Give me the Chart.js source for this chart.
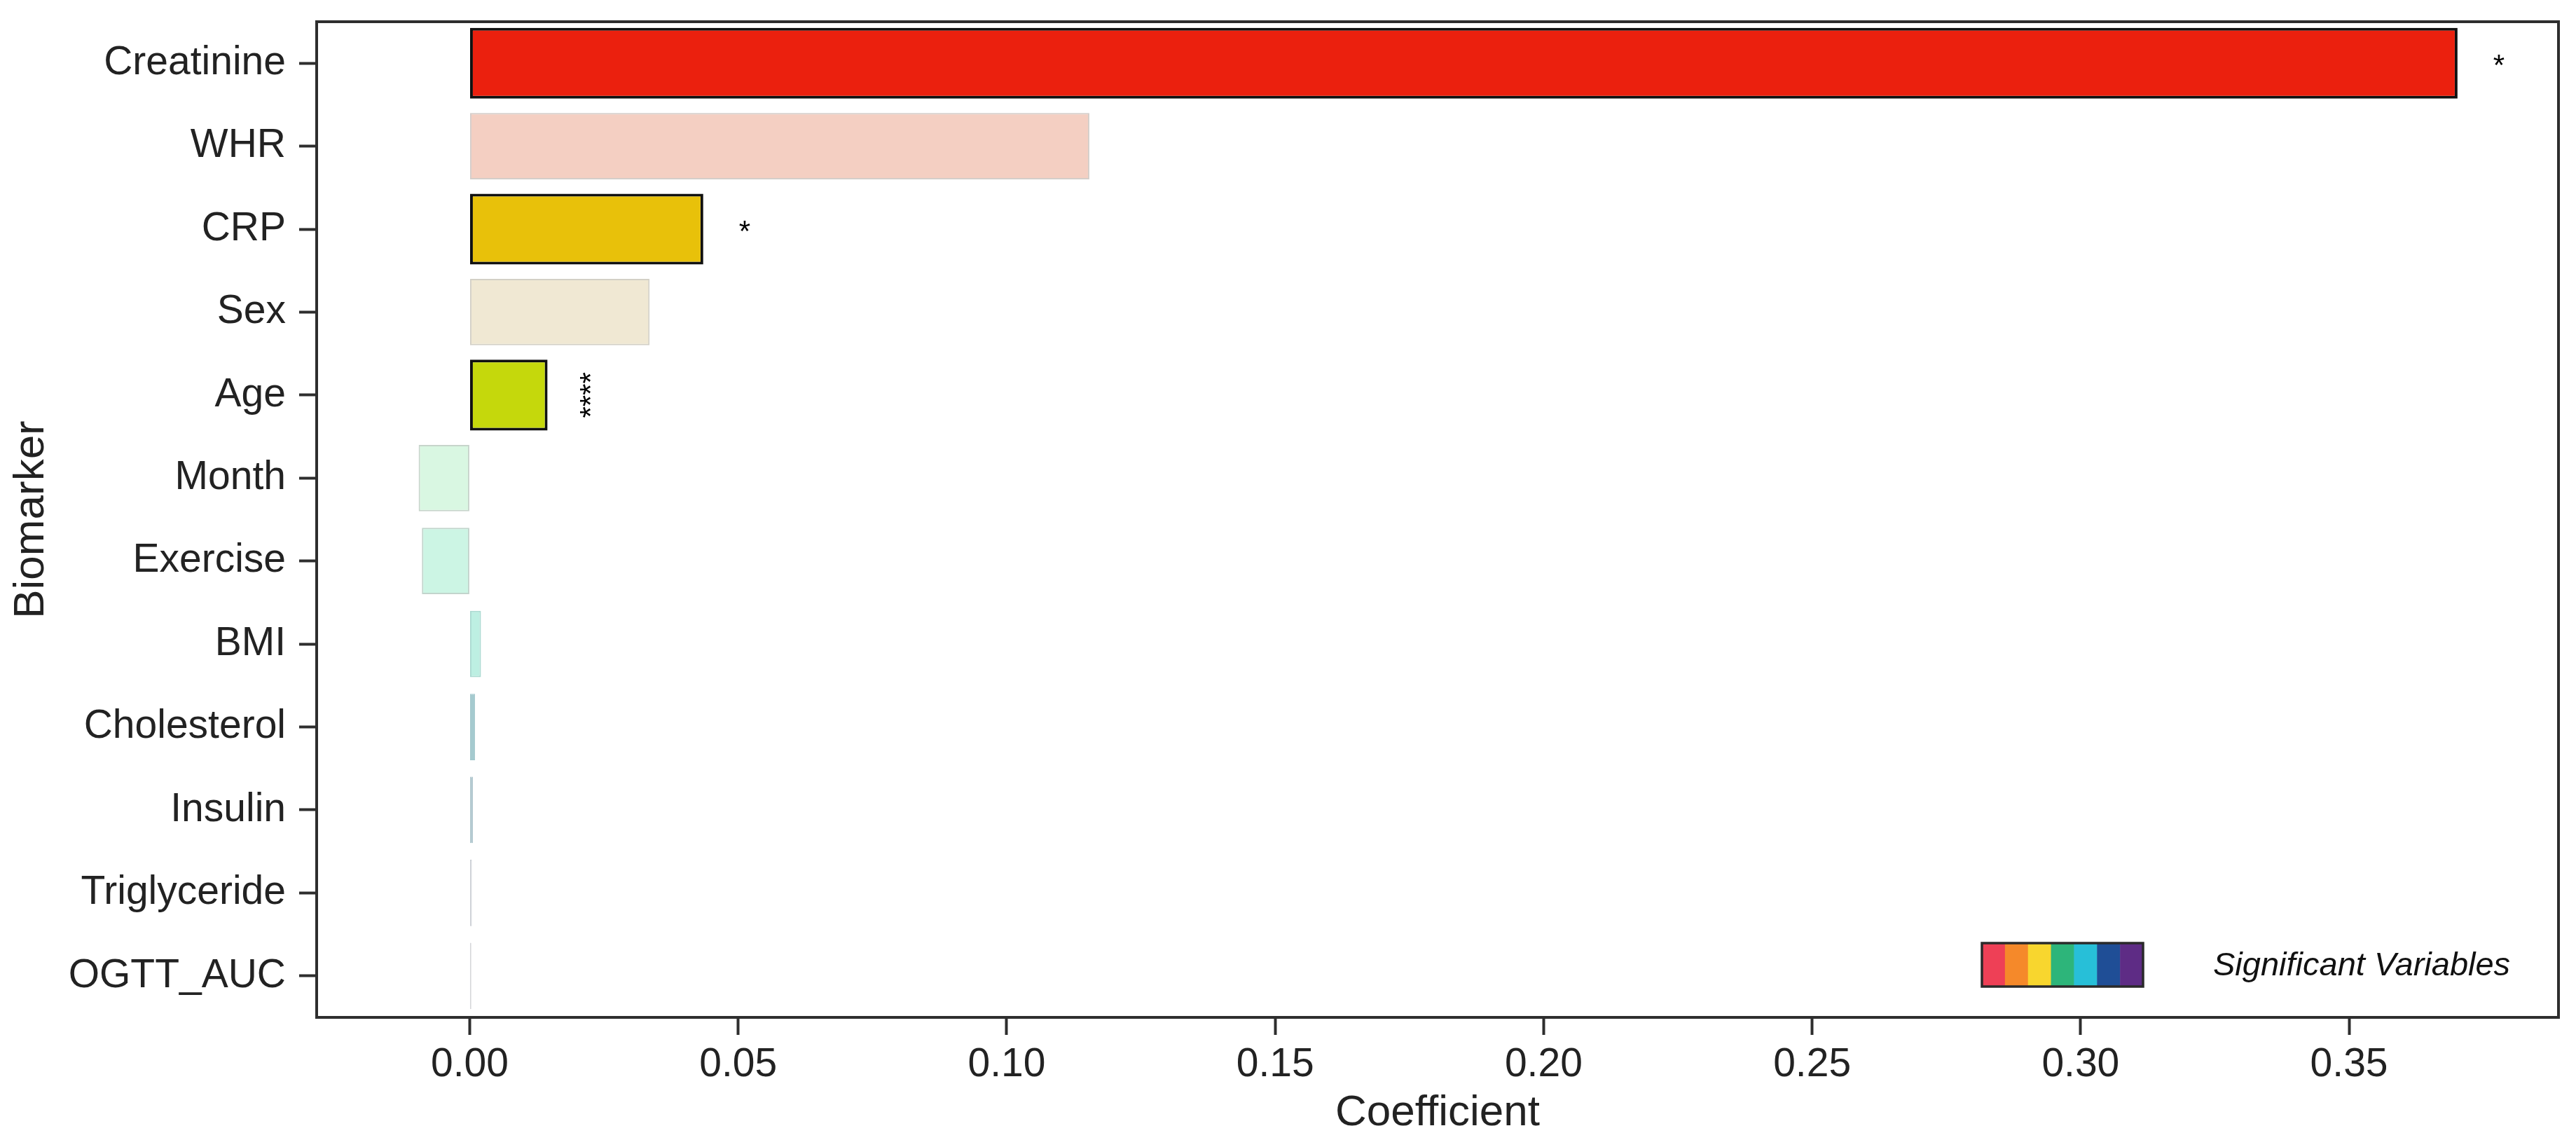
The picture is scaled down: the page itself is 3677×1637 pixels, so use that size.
<!DOCTYPE html>
<html>
<head>
<meta charset="utf-8">
<script src="https://cdn.jsdelivr.net/npm/chart.js@4.4.1/dist/chart.umd.min.js"></script>
<style>
  html, body { margin: 0; padding: 0; background: #ffffff; }
  canvas { display: block; }
</style>
</head>
<body>
<canvas id="c" width="3677" height="1637"></canvas>
<script>
// ---------- data ----------
const categories = ['Creatinine', 'WHR', 'CRP', 'Sex', 'Age', 'Month', 'Exercise', 'BMI', 'Cholesterol', 'Insulin', 'Triglyceride', 'OGTT_AUC'];
const coefficients = [0.3702, 0.1154, 0.0435, 0.0335, 0.0145, -0.0095, -0.0089, 0.0021, 0.0010, 0.0006, 0.0004, 0.0003];
const significance = ['*', '', '*', '', '****', '', '', '', '', '', '', ''];
const barColors = ['#EB200E', '#F4CFC2', '#E8C10A', '#F0E8D3', '#C5D80C', '#D9F7E2', '#CCF5E4', '#BDEFE2', '#A5CACF', '#B5CBD2', '#CDD1D7', '#DADBDE'];
const paleEdgeColors = ['', '#D4CDC9', '', '#D3D0C6', '', '#C7D4CB', '#C2D4CC', '#ABDAD1', '#9FC5CA', '#AFC6CD', '#C8CCD2', '#D5D6D9'];
const xTickValues = [0.00, 0.05, 0.10, 0.15, 0.20, 0.25, 0.30, 0.35];
const legendColors = ['#EE4056', '#F5892A', '#F8D62E', '#2DB57A', '#27BFD8', '#1F4E96', '#5E2C85'];
const legendLabel = 'Significant Variables';
const xTitle = 'Coefficient';
const yTitle = 'Biomarker';

// ---------- style ----------
const FONT = "'Liberation Sans', Arial, Helvetica, sans-serif";
const AXIS_COLOR = '#2e2e2e';
const TEXT_COLOR = '#222222';
const STAR_OFFSET = 0.0077;   // distance of significance marks from bar end (data units)
const STAR_SIZE = 42;
const STAR_SHIFT = 0.40;      // glyph centre above the baseline (em)

const sigData = coefficients.map((v, i) => significance[i] ? v : null);
const nonSigData = coefficients.map((v, i) => significance[i] ? null : v);
const nonSigBorderWidth = coefficients.map(v => Math.abs(v) < 0.0015 ? 1 : 2);

const framePlugin = {
  id: 'frame',
  beforeDraw(chart) {
    const ctx = chart.ctx;
    ctx.save();
    ctx.fillStyle = '#ffffff';
    ctx.fillRect(0, 0, chart.width, chart.height);
    ctx.restore();
  },
  afterDraw(chart) {
    const { ctx, chartArea: a, scales } = chart;
    ctx.save();
    // top & right spines
    ctx.strokeStyle = AXIS_COLOR;
    ctx.lineWidth = 4;
    ctx.beginPath();
    ctx.moveTo(a.left - 2, a.top);
    ctx.lineTo(a.right, a.top);
    ctx.lineTo(a.right, a.bottom + 2);
    ctx.stroke();

    // significance marks
    ctx.fillStyle = '#000';
    ctx.font = STAR_SIZE + 'px ' + FONT;
    ctx.textAlign = 'center';
    ctx.textBaseline = 'alphabetic';
    significance.forEach((s, i) => {
      if (!s) return;
      const xp = scales.x.getPixelForValue(coefficients[i] + STAR_OFFSET);
      const yp = scales.y.getPixelForValue(i);
      if (s.length === 1) {
        ctx.fillText(s, xp, yp + STAR_SHIFT * STAR_SIZE);
      } else {
        ctx.save();
        ctx.translate(xp + STAR_SHIFT * STAR_SIZE, yp);
        ctx.rotate(-Math.PI / 2);
        ctx.fillText(s, 0, 0);
        ctx.restore();
      }
    });

    // legend: rainbow swatch + italic label
    const lx = a.right - 823, ly = a.bottom - 106, lw = 230, lh = 62;
    const sw = lw / legendColors.length;
    legendColors.forEach((c, k) => {
      ctx.fillStyle = c;
      ctx.fillRect(lx + k * sw, ly, sw + 0.5, lh);
    });
    ctx.strokeStyle = '#2a2a2a';
    ctx.lineWidth = 3.5;
    ctx.strokeRect(lx, ly, lw, lh);
    ctx.fillStyle = '#111';
    ctx.font = 'italic 47px ' + FONT;
    ctx.textAlign = 'left';
    ctx.textBaseline = 'middle';
    ctx.fillText(legendLabel, a.right - 493, ly + lh / 2 + 2);
    ctx.restore();
  }
};

new Chart(document.getElementById('c'), {
  type: 'bar',
  data: {
    labels: categories,
    datasets: [
      {
        data: sigData,
        backgroundColor: barColors,
        borderColor: '#111111',
        borderWidth: 4,
        borderSkipped: false,
        barPercentage: 0.854,
        categoryPercentage: 1,
        grouped: false
      },
      {
        data: nonSigData,
        backgroundColor: barColors,
        borderColor: paleEdgeColors,
        borderWidth: nonSigBorderWidth,
        borderSkipped: false,
        barPercentage: 0.8,
        categoryPercentage: 1,
        grouped: false
      }
    ]
  },
  options: {
    indexAxis: 'y',
    responsive: false,
    animation: false,
    devicePixelRatio: 1,
    layout: { padding: { top: 31, right: 25, left: 0, bottom: 0 } },
    plugins: { legend: { display: false }, tooltip: { enabled: false } },
    scales: {
      x: {
        type: 'linear',
        min: -0.0285,
        max: 0.389,
        afterBuildTicks: s => { s.ticks = xTickValues.map(v => ({ value: v })); },
        afterFit: s => { s.height = 185; s.paddingLeft = 0; s.paddingRight = 0; },
        ticks: {
          callback: v => Number(v).toFixed(2),
          font: { family: FONT, size: 57 },
          color: TEXT_COLOR,
          padding: 9,
          maxRotation: 0,
          autoSkip: false
        },
        grid: { display: true, drawOnChartArea: false, drawTicks: true, tickLength: 25, tickWidth: 4, tickColor: AXIS_COLOR },
        border: { display: true, width: 4, color: AXIS_COLOR },
        title: { display: true, text: xTitle, color: TEXT_COLOR, font: { family: FONT, size: 62 }, padding: { top: 0, bottom: 11 } }
      },
      y: {
        type: 'category',
        offset: true,
        afterFit: s => { s.width = 452; s.paddingTop = 0; s.paddingBottom = 0; },
        ticks: {
          font: { family: FONT, size: 57 },
          color: TEXT_COLOR,
          padding: 19,
          autoSkip: false
        },
        grid: { display: true, offset: false, drawOnChartArea: false, drawTicks: true, tickLength: 25, tickWidth: 4, tickColor: AXIS_COLOR },
        border: { display: true, width: 4, color: AXIS_COLOR },
        title: { display: true, text: yTitle, color: TEXT_COLOR, font: { family: FONT, size: 62 }, padding: { top: 8, bottom: 0 } }
      }
    }
  },
  plugins: [framePlugin]
});
</script>
</body>
</html>
